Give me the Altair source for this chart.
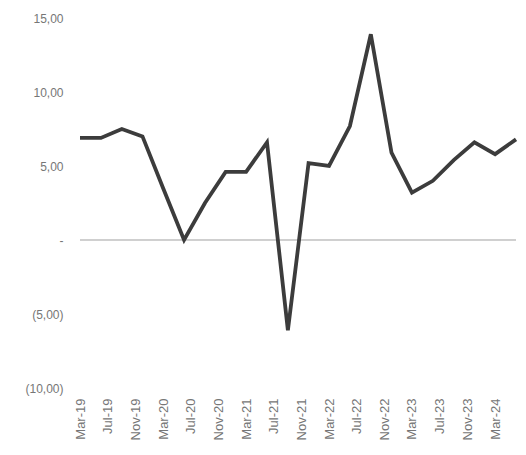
import altair as alt
import pandas as pd

# Quarterly observations (Mar-19 .. Jun-24)
quarters = [
    "2019-03-01", "2019-06-01", "2019-09-01", "2019-12-01",
    "2020-03-01", "2020-06-01", "2020-09-01", "2020-12-01",
    "2021-03-01", "2021-06-01", "2021-09-01", "2021-12-01",
    "2022-03-01", "2022-06-01", "2022-09-01", "2022-12-01",
    "2023-03-01", "2023-06-01", "2023-09-01", "2023-12-01",
    "2024-03-01", "2024-06-01",
]
values = [
    6.9, 6.9, 7.5, 7.0,
    3.5, 0.0, 2.5, 4.6,
    4.6, 6.6, -6.1, 5.2,
    5.0, 7.7, 13.9, 5.9,
    3.2, 4.0, 5.4, 6.6,
    5.8, 6.8,
]

# Axis tick labels (every 4 months)
tick_years = [2019, 2019, 2019, 2020, 2020, 2020, 2021, 2021,
              2021, 2022, 2022, 2022, 2023, 2023, 2023, 2024]
tick_months = [3, 7, 11, 3, 7, 11, 3, 7, 11, 3, 7, 11, 3, 7, 11, 3]
y_ticks = [-10, -5, 0, 5, 10, 15]

df = pd.DataFrame({"date": quarters, "value": values})

label_font = "Liberation Sans"
label_color = "#767676"

x_axis = alt.Axis(
    values=[alt.DateTime(year=y, month=m, date=1, utc=True)
            for y, m in zip(tick_years, tick_months)],
    labelExpr="utcFormat(datum.value, '%b-%y')",
    labelAngle=-90,
    labelAlign="right",
    labelBaseline="middle",
    labelPadding=10,
    labelFont=label_font,
    labelFontSize=13,
    labelColor=label_color,
    labelOverlap=False,
    domain=False,
    ticks=False,
    grid=False,
    title=None,
)

y_axis = alt.Axis(
    values=y_ticks,
    labelExpr=(
        "datum.value == 0 ? '-\u2007\u2007' : "
        "datum.value < 0 ? '(' + replace(format(-datum.value, '.2f'), '.', ',') + ')' : "
        "replace(format(datum.value, '.2f'), '.', ',')"
    ),
    labelPadding=17,
    labelFont=label_font,
    labelFontSize=12,
    labelColor=label_color,
    labelOverlap=False,
    domain=False,
    ticks=False,
    grid=False,
    title=None,
)

x_enc = alt.X("date:T", axis=x_axis,
              scale=alt.Scale(type="utc", nice=False))
y_enc = alt.Y("value:Q", axis=y_axis,
              scale=alt.Scale(domain=[-10, 15], nice=False, zero=False))

zero_line = alt.Chart(df).mark_rule(color="#cfcfcf", strokeWidth=1).encode(
    y=alt.datum(0)
)

line = alt.Chart(df).mark_line(
    color="#3c3c3c", strokeWidth=3.8, strokeJoin="miter", interpolate="linear"
).encode(x=x_enc, y=y_enc)

chart = (
    alt.layer(zero_line, line)
    .properties(
        width=436,
        height=370,
        autosize=alt.AutoSizeParams(type="none"),
        padding={"left": 72, "top": 10, "right": 2, "bottom": 58},
        background="white",
    )
    .configure_view(stroke=None)
)

chart.save("out.html", embed_options={"renderer": "svg", "actions": False})
